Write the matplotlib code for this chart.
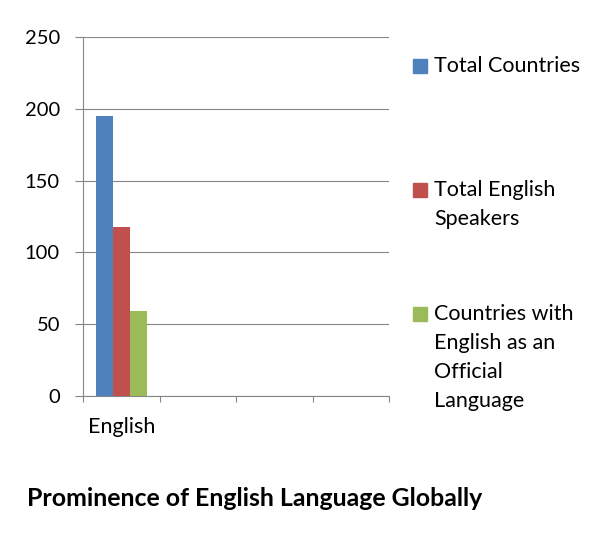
import numpy as np
import matplotlib.pyplot as plt
from matplotlib.patches import Rectangle

plt.rcParams['font.family'] = ['Lato', 'DejaVu Sans']

# data
categories = ['English', '', '', '']
series_names = ['Total Countries', 'Total English\nSpeakers',
                'Countries with\nEnglish as an\nOfficial\nLanguage']
values = [[195, np.nan, np.nan, np.nan],
          [118, np.nan, np.nan, np.nan],
          [59, np.nan, np.nan, np.nan]]
colors = ['#4F81BD', '#C0504D', '#9BBB59']
y_ticks = [0, 50, 100, 150, 200, 250]

W, H = 612, 549
fig = plt.figure(figsize=(W / 100, H / 100), dpi=100)
ax = fig.add_axes([83.3 / W, 1 - 395.7 / H, 306 / W, 358.4 / H])

x = np.arange(len(categories))
bw = 0.222
for i, (vals, c) in enumerate(zip(values, colors)):
    ax.bar(x + (i - 1) * bw, vals, width=bw, color=c, zorder=3)

ax.set_xlim(-0.5, len(categories) - 0.5)
ax.set_ylim(0, 250)
ax.set_yticks(y_ticks)
ax.tick_params(axis='y', length=5.8, width=0.8, color='#868686', pad=11,
               labelsize=14.5)
ax.set_xticks(np.arange(len(categories) + 1) - 0.5, minor=False)
ax.set_xticklabels([])
ax.set_xticks(x, minor=True)
ax.set_xticklabels(categories, minor=True)
ax.tick_params(axis='x', which='major', length=4.5, width=0.8, color='#868686')
ax.tick_params(axis='x', which='minor', length=0, pad=15.5, labelsize=15.5)
ax.yaxis.grid(True, color='#868686', linewidth=0.8, zorder=0)
for s in ['top', 'right']:
    ax.spines[s].set_visible(False)
for s in ['left', 'bottom']:
    ax.spines[s].set_color('#868686')
    ax.spines[s].set_linewidth(0.8)

# legend drawn by hand, Excel-style spacing
legend_y = [66, 190, 314]
line_gap = 29
for name, c, yc in zip(series_names, colors, legend_y):
    fig.patches.append(Rectangle((413 / W, 1 - (yc + 7) / H), 14 / W, 14 / H,
                                 transform=fig.transFigure, color=c))
    for k, line in enumerate(name.split('\n')):
        fig.text(434 / W, 1 - (yc + k * line_gap) / H, line, fontsize=15.5,
                 va='center', ha='left')

fig.text(27 / W, 1 - 498 / H, 'Prominence of English Language Globally',
         fontsize=17.9, fontweight='bold', va='center', ha='left')

fig.savefig('out.png', dpi=100)
